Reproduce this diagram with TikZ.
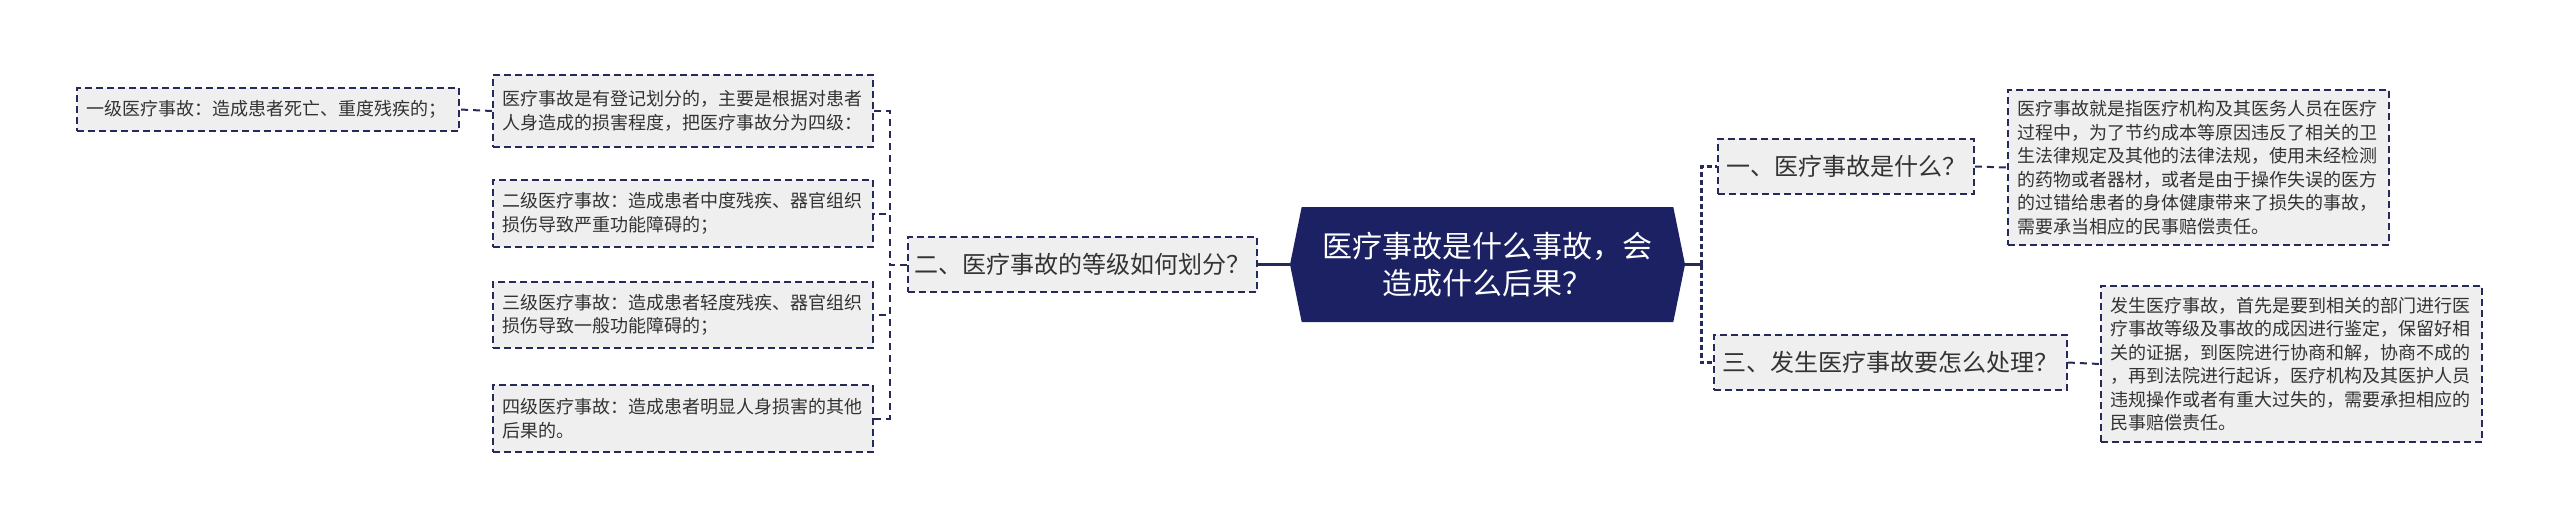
\documentclass[tikz,border=0pt]{standalone}
\usepackage{fontspec}
\setmainfont{Noto Sans CJK SC}
\usetikzlibrary{shapes.symbols}
\definecolor{rootblue}{RGB}{27,33,99}
\definecolor{linenavy}{RGB}{38,42,88}
\definecolor{boxgray}{RGB}{239,239,239}
\definecolor{textgray}{RGB}{51,51,51}
\newcommand{\boxfont}{\fontsize{18}{23.5}\selectfont}
\newcommand{\branchfont}{\fontsize{24}{30}\selectfont}
\newcommand{\rootfont}{\fontsize{30}{37.5}\selectfont}

\begin{document}
\begin{tikzpicture}[x=1pt,y=-1pt]
    \begin{scope}[
        textbox/.style={draw=linenavy, fill=boxgray, line width=1.8pt,
          dash pattern=on 7pt off 4pt, text=textgray, align=left,
          inner xsep=9pt, inner ysep=0pt, font=\boxfont},
        branchbox/.style={textbox, align=center, inner xsep=0pt, font=\branchfont,
          minimum height=55pt},
        link/.style={draw=linenavy, line width=2pt, dash pattern=on 7pt off 5pt},
        rlink/.style={draw=linenavy, line width=3pt, dash pattern=on 5pt off 3pt},
        stem/.style={draw=linenavy, line width=2.5pt}]

      \useasboundingbox (0,0) rectangle (2560,531);

      % defines
      \pgfmathsetmacro\LeftJoinX{890}   % x of left joint
      \pgfmathsetmacro\RightJoinX{1701} % x of right joint
      \pgfmathsetmacro\MidY{264.5}      % y of root

      % draw root
      \node (root) at (1487.5,\MidY) [shape=signal, signal to=west and east,
        signal pointer angle=157, fill=rootblue, text=white, align=center,
        minimum width=395pt, minimum height=115pt, inner sep=0pt, font=\rootfont]
        {医疗事故是什么事故，会\\造成什么后果？};

      % draw left branch and its children
      \node (b2) at (1082.5,\MidY) [branchbox, minimum width=349pt]
        {二、医疗事故的等级如何划分？};
      \node (cls) at (683,111) [textbox, text width=362pt, minimum height=72pt]
        {医疗事故是有登记划分的，主要是根据对患者\\人身造成的损害程度，把医疗事故分为四级：};
      \node (lv1) at (268,109.5) [textbox, text width=364pt, minimum height=43pt]
        {一级医疗事故：造成患者死亡、重度残疾的；};
      \node (lv2) at (683,213.5) [textbox, text width=362pt, minimum height=67pt]
        {二级医疗事故：造成患者中度残疾、器官组织\\损伤导致严重功能障碍的；};
      \node (lv3) at (683,315) [textbox, text width=362pt, minimum height=66pt]
        {三级医疗事故：造成患者轻度残疾、器官组织\\损伤导致一般功能障碍的；};
      \node (lv4) at (683,418.5) [textbox, text width=362pt, minimum height=67pt]
        {四级医疗事故：造成患者明显人身损害的其他\\后果的。};

      % draw right branches and their children
      \node (b1) at (1846,166.5) [branchbox, minimum width=256pt]
        {一、医疗事故是什么？};
      \node (b3) at (1890.5,362.5) [branchbox, minimum width=353pt]
        {三、发生医疗事故要怎么处理？};
      \node (d1) at (2198.5,167.5) [textbox, text width=363pt, minimum height=155pt]
        {医疗事故就是指医疗机构及其医务人员在医疗\\过程中，为了节约成本等原因违反了相关的卫\\生法律规定及其他的法律法规，使用未经检测\\的药物或者器材，或者是由于操作失误的医方\\的过错给患者的身体健康带来了损失的事故，\\需要承当相应的民事赔偿责任。};
      \node (d3) at (2291.5,364) [textbox, text width=363pt, minimum height=156pt]
        {发生医疗事故，首先是要到相关的部门进行医\\疗事故等级及事故的成因进行鉴定，保留好相\\关的证据，到医院进行协商和解，协商不成的\\，再到法院进行起诉，医疗机构及其医护人员\\违规操作或者有重大过失的，需要承担相应的\\民事赔偿责任。};

      % joints
      \coordinate (lj) at (\LeftJoinX,\MidY);
      \coordinate (rj) at (\RightJoinX,\MidY);

      % draw connection lines
      \draw[stem] (root.west) -- (b2.east);
      \foreach \n in {cls,lv2,lv3,lv4}
        \draw[link] (b2.west) -- (lj) |- (\n.east);
      \draw[link] (cls.west) -- (lv1.east);
      \draw[stem] (root.east) -- (rj);
      \draw[rlink] (rj) |- (b1.west);
      \draw[rlink] (rj) |- (b3.west);
      \draw[link] (b1.east) -- (d1.west);
      \draw[link] (b3.east) -- (d3.west);

    \end{scope}
\end{tikzpicture}
\end{document}
